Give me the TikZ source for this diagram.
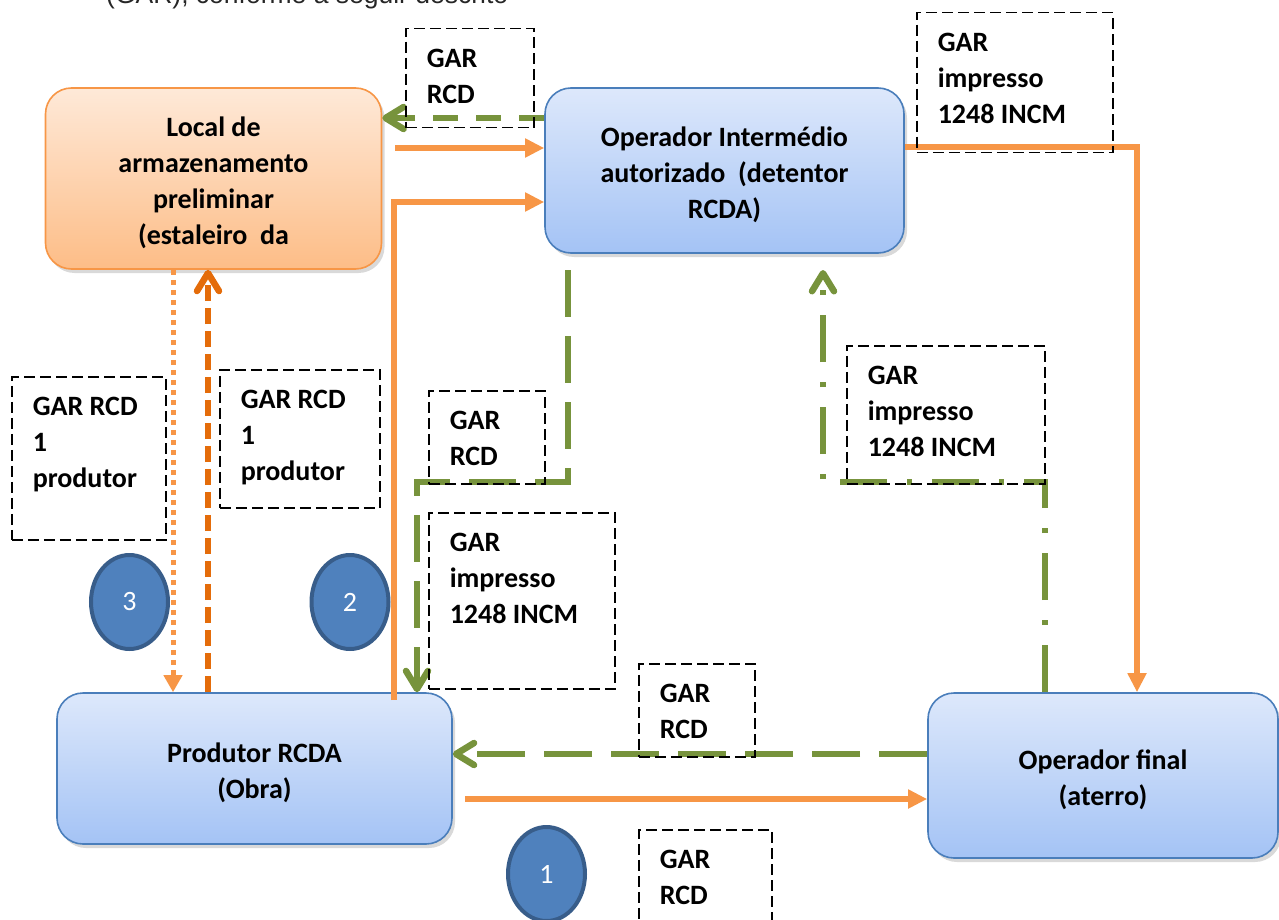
\documentclass[tikz,border=0pt]{standalone}
\usepackage{fontspec}
\setmainfont{Carlito}
\newfontfamily\arialfont{Liberation Sans}
\usepackage{tikz}
\usetikzlibrary{arrows.meta,positioning,shapes.geometric,shadows}
\definecolor{flowOrange}{HTML}{F79646}
\definecolor{darkOrange}{HTML}{E46C0A}
\definecolor{garGreen}{HTML}{77933C}
\definecolor{boxBlue}{HTML}{4A7EBB}
\definecolor{blueTop}{HTML}{DDE8FB}
\definecolor{blueBot}{HTML}{A4C3F5}
\definecolor{orangeTop}{HTML}{FEE9D8}
\definecolor{orangeBot}{HTML}{FDBD87}
\definecolor{stepFill}{HTML}{4F81BD}
\definecolor{stepLine}{HTML}{385D8A}

\begin{document}
\begin{tikzpicture}[x=1pt, y=-1pt, line cap=butt,
  stage/.style={rounded corners=26pt, draw=boxBlue, line width=1.6pt, top color=blueTop, bottom color=blueBot, align=flush center, inner sep=0pt, text height=28pt, font=\fontsize{28pt}{36pt}\selectfont\bfseries, drop shadow={shadow xshift=3pt, shadow yshift=-4pt, opacity=.3}},
  store/.style={stage, draw=flowOrange, top color=orangeTop, bottom color=orangeBot},
  gar note/.style={draw, dash pattern=on 11pt off 5pt, line width=1.5pt, anchor=north west, align=flush left, inner sep=21pt, text height=18pt, font=\fontsize{28pt}{36pt}\selectfont\bfseries},
  step no/.style={ellipse, draw=stepLine, line width=4pt, fill=stepFill, text=white, minimum width=77pt, minimum height=94pt, inner sep=0pt, font=\fontsize{28pt}{34pt}\selectfont},
  flow/.style={flowOrange, line width=6pt, -{Triangle[length=19pt,width=18pt]}},
  ret/.style={garGreen, line width=6.5pt, -{Straight Barb[length=18pt,width=22pt,round]}}]
\useasboundingbox (0,0) rectangle (1279,920);
\clip (0,0) rectangle (1279,920);
\node[font=\arialfont\fontsize{26.5pt}{30pt}\selectfont, anchor=base west, text=black!85, inner sep=0pt] (intro) at (106,3.5) {(GAR), conforme a seguir descrito};
\begin{scope}
\node[store, text width=330pt, minimum width=336pt, minimum height=181pt] (local) at (213.5,178.5) {Local de\\armazenamento\\preliminar\\(estaleiro\ \ da};
\node[stage, text width=350pt, minimum width=359pt, minimum height=165pt] (inter) at (724.5,170.5) {Operador Intermédio\\autorizado\ \ (detentor\\RCDA)};
\node[stage, text width=385pt, minimum width=395pt, minimum height=151pt] (prod) at (254.5,768.5) {Produtor RCDA\\(Obra)};
\node[stage, text width=340pt, minimum width=350pt, minimum height=165pt] (final) at (1103,775.5) {Operador final\\(aterro)};
\node[step no] (n3) at (129.5,602) {3};
\node[step no] (n2) at (350,602) {2};
\node[step no] (n1) at (546.5,874) {1};
\end{scope}
\coordinate (b0) at (395,148);
\coordinate (c0) at (394,700);
\coordinate (e0) at (568,270);
\coordinate (f1) at (823,270);
\coordinate (h0) at (465,799);
\begin{scope}
\draw[ret, dash pattern=on 25pt off 18pt] (inter.west |- 0,118) -- (local.east |- 0,118);
\draw[flow] (b0) -- (inter.west |- b0);
\draw[flow] (c0) |- (inter.west |- 0,202);
\draw[flow] (inter.east |- 0,147) -| (final.north -| 1137,0);
\draw[ret, dash pattern=on 47pt off 19pt] (e0) -- (e0 |- 0,482) -| (prod.north -| 417,0);
\draw[ret, dash pattern=on 47pt off 20pt on 5pt off 20pt] (final.north -| 1045,0) |- (f1 |- 0,482) -- (f1);
\draw[ret, dash pattern=on 48pt off 19pt] (final.west |- 0,754) -- (prod.east |- 0,754);
\draw[flow] (h0) -- (final.west |- h0);
\draw[flow, line width=5pt, dash pattern=on 5pt off 5pt, -{Triangle[length=17pt,width=18pt]}] (local.south -| 173,0) -- (prod.north -| 173,0);
\draw[ret, darkOrange, dash pattern=on 16pt off 7pt] (prod.north -| 208,0) -- (local.south -| 208,0);
\end{scope}
\begin{scope}
\node[gar note, text width=86pt, text depth=39pt] (g1) at (405,28) {GAR\\RCD};
\node[gar note, text width=154pt, text depth=80pt] (g2) at (916,12) {GAR\\impresso\\1248~INCM};
\node[gar note, text width=112pt, text depth=103pt] (g3) at (11,376) {GAR~RCD\\1\\produtor};
\node[gar note, text width=118pt, text depth=78pt] (g4) at (219,369) {GAR~RCD\\1\\produtor};
\node[gar note, text width=74pt, text depth=33pt] (g5) at (428,390) {GAR\\RCD};
\node[gar note, text width=144pt, text depth=116pt] (g6) at (428,512) {GAR\\impresso\\1248~INCM};
\node[gar note, text width=156pt, text depth=78pt] (g7) at (846,345) {GAR\\impresso\\1248~INCM};
\node[gar note, text width=74pt, text depth=33pt] (g8) at (638,663) {GAR\\RCD};
\node[gar note, text width=91pt, text depth=60pt] (g9) at (638,829) {GAR\\RCD};
\end{scope}
\end{tikzpicture}
\end{document}
